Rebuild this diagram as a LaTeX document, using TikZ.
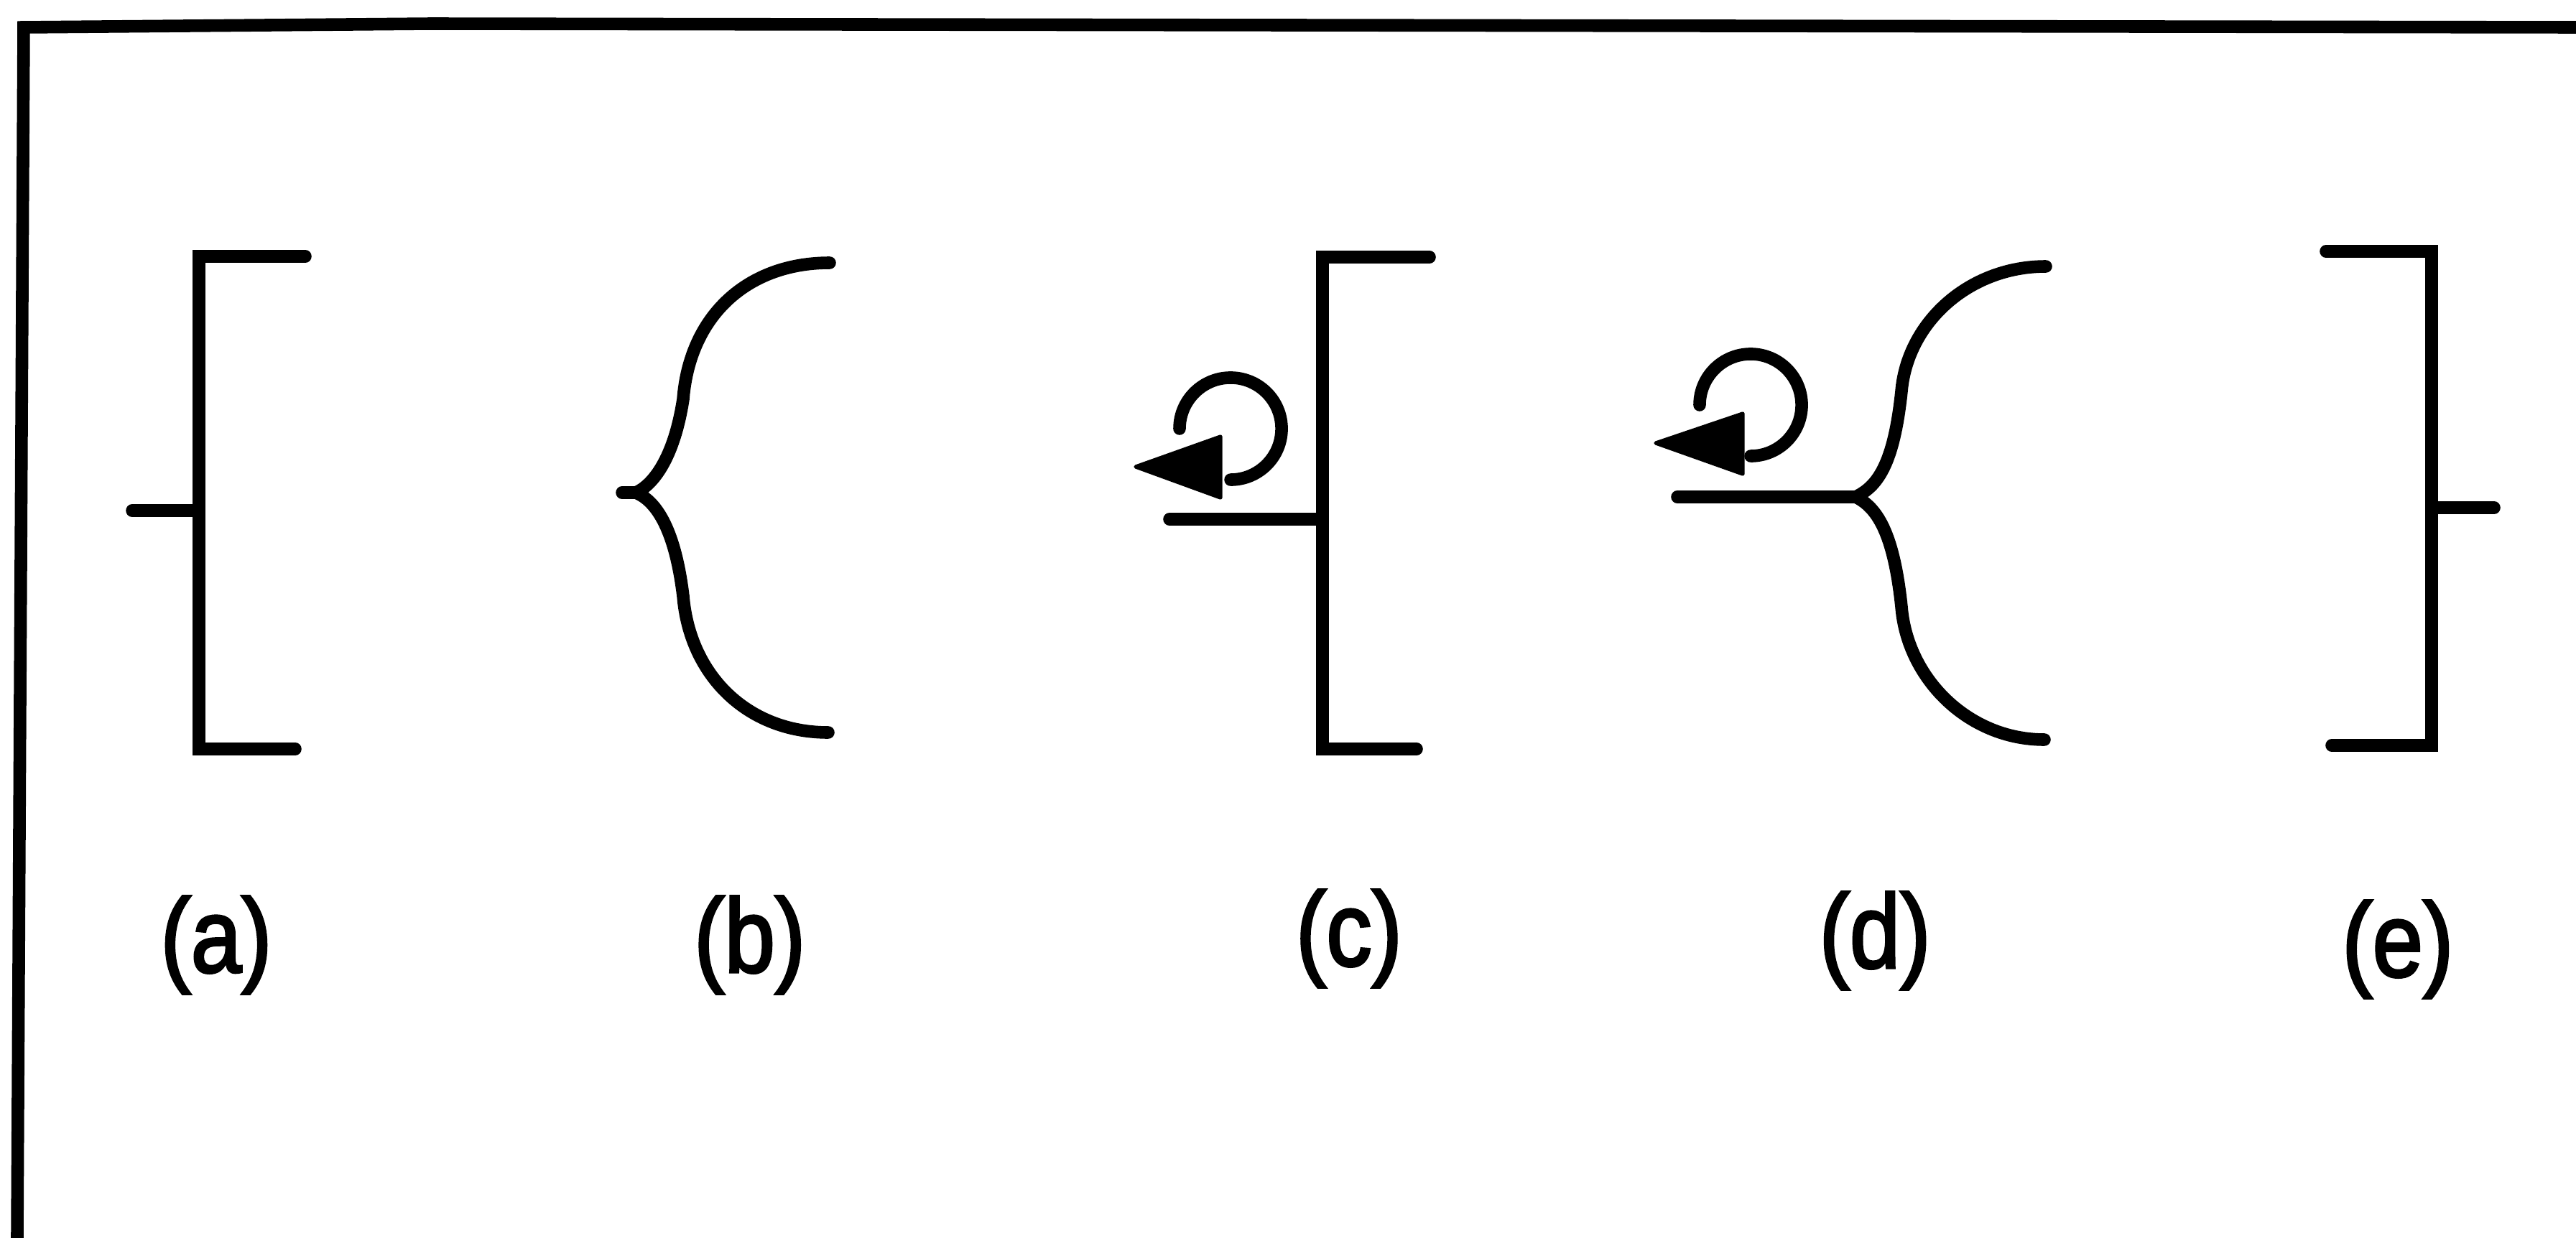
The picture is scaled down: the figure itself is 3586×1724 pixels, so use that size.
\documentclass[tikz,border=0pt]{standalone}
\usepackage{fontspec}
\newfontfamily\labfont{Liberation Sans}[FakeBold=2.5]
\usetikzlibrary{positioning}

\begin{document}
\begin{tikzpicture}[x=0.01cm,y=-0.01cm,l/.style={line width=5pt,line cap=round,line join=round},lab/.style={inner sep=0pt,font=\labfont\fontsize{41.5}{41.5}\selectfont,xscale=.87,transform shape}]
\useasboundingbox (0,0) rectangle (3586,1724);
\draw[l,line cap=butt,line join=miter] (24,1724)--(33,38)--(600,33)--(3586,38);
\draw[l,line join=miter] (425,357)--(277,357)--(277,1043)--(411,1043);
\draw[l] (184,711)--(277,711);
\draw[l] (1155,366) .. controls (1040,366) and (960,440) .. (951,556) .. controls (938,640) and (908,676) .. (885,686) .. controls (915,698) and (940,740) .. (951,830) .. controls (960,940) and (1040,1020) .. (1153,1020);
\draw[l] (866,686)--(885,686);
\draw[l,line join=miter] (1990,358)--(1841,358)--(1841,1043)--(1972,1043);
\draw[l] (1628,723)--(1841,723);
\draw[l] (1642,597) arc[start angle=180,end angle=-90,radius=.71cm];
\fill[line join=round,draw,line width=1.5pt] (1581,650)--(1699,608)--(1699,693)--cycle;
\draw[l] (2848,371) .. controls (2740,371) and (2655,450) .. (2647,545) .. controls (2636,650) and (2612,678) .. (2583,692) .. controls (2612,706) and (2636,740) .. (2647,845) .. controls (2655,945) and (2740,1030) .. (2846,1030);
\draw[l] (2335,692)--(2583,692);
\draw[l] (2366,564) arc[start angle=180,end angle=-90,radius=.71cm];
\fill[line join=round,draw,line width=1.5pt] (2305,617)--(2426,576)--(2426,660)--cycle;
\draw[l,line join=miter] (3238,350)--(3385,350)--(3385,1038)--(3246,1038);
\draw[l] (3385,707)--(3472,707);
\node[lab] (la) at (301,1316) {(a)};
\node[lab,right=5.86cm of la] (lb) {(b)};
\node[lab,right=6.81cm of lb,yshift=.09cm] (lc) {(c)};
\node[lab,right=5.79cm of lc,yshift=-.03cm] (ld) {(d)};
\node[lab,right=5.71cm of ld,yshift=-.12cm] (le) {(e)};
\end{tikzpicture}
\end{document}
